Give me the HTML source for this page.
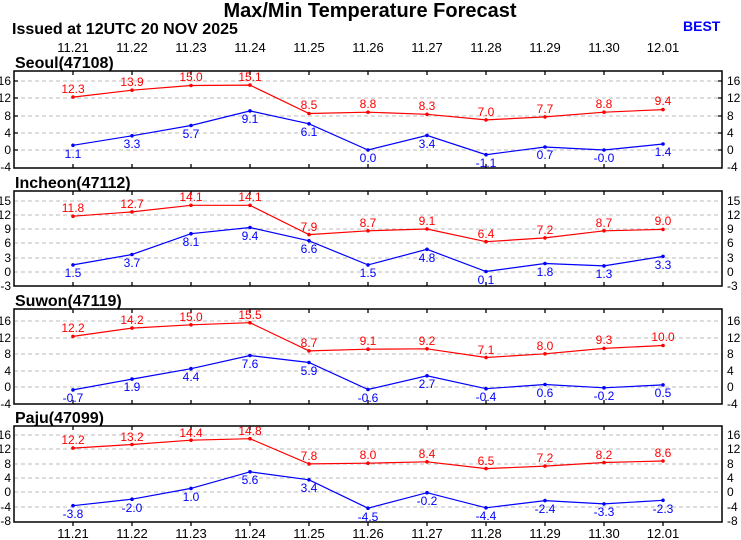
<!DOCTYPE html>
<html><head><meta charset="utf-8"><style>
body{margin:0;background:#fff}
svg{display:block;font-family:"Liberation Sans",Arial,sans-serif}
.g{stroke:#bbb;stroke-width:1;stroke-dasharray:4,3}
.f{fill:none;stroke:#000;stroke-width:1.5}
.tk{stroke:#000;stroke-width:1.3}
.yl{font-size:12px;fill:#000}
.dl{font-size:13px;fill:#000;text-anchor:middle}
.r{fill:none;stroke:#f00;stroke-width:1.2}
.b{fill:none;stroke:#00f;stroke-width:1.2}
.rt{font-size:12px;fill:#f00;text-anchor:middle}
.bt{font-size:12px;fill:#00f;text-anchor:middle}
.st{font-size:16px;font-weight:bold;fill:#000}
</style></head><body>
<svg width="741" height="540" viewBox="0 0 741 540">
<text x="370" y="17" text-anchor="middle" font-size="20" font-weight="bold">Max/Min Temperature Forecast</text>
<text x="12" y="34" font-size="16" font-weight="bold">Issued at 12UTC 20 NOV 2025</text>
<text x="683" y="31" font-size="14" font-weight="bold" fill="#00f">BEST</text>
<g class="dl">
<text x="73" y="52">11.21</text><text x="132" y="52">11.22</text><text x="191" y="52">11.23</text><text x="250" y="52">11.24</text><text x="309" y="52">11.25</text><text x="368" y="52">11.26</text><text x="427" y="52">11.27</text><text x="486" y="52">11.28</text><text x="545" y="52">11.29</text><text x="604" y="52">11.30</text><text x="663" y="52">12.01</text>
<text x="73" y="538">11.21</text><text x="132" y="538">11.22</text><text x="191" y="538">11.23</text><text x="250" y="538">11.24</text><text x="309" y="538">11.25</text><text x="368" y="538">11.26</text><text x="427" y="538">11.27</text><text x="486" y="538">11.28</text><text x="545" y="538">11.29</text><text x="604" y="538">11.30</text><text x="663" y="538">12.01</text>
</g>

<!-- Seoul -->
<text class="st" x="15" y="68">Seoul(47108)</text>
<g class="g"><line x1="14" x2="722" y1="81" y2="81"/><line x1="14" x2="722" y1="98" y2="98"/><line x1="14" x2="722" y1="116" y2="116"/><line x1="14" x2="722" y1="133" y2="133"/><line x1="14" x2="722" y1="150" y2="150"/></g>
<rect class="f" x="14" y="71" width="708" height="97"/>
<g class="yl" text-anchor="end"><text x="11" y="85">16</text><text x="11" y="102">12</text><text x="11" y="120">8</text><text x="11" y="137">4</text><text x="11" y="154">0</text><text x="11" y="171">-4</text></g>
<g class="yl"><text x="727" y="85">16</text><text x="727" y="102">12</text><text x="727" y="120">8</text><text x="727" y="137">4</text><text x="727" y="154">0</text><text x="727" y="171">-4</text></g>
<path class="tk" d="M73 71v4M132 71v4M191 71v4M250 71v4M309 71v4M368 71v4M427 71v4M486 71v4M545 71v4M604 71v4M663 71v4M73 168v-4M132 168v-4M191 168v-4M250 168v-4M309 168v-4M368 168v-4M427 168v-4M486 168v-4M545 168v-4M604 168v-4M663 168v-4M14 81h4M14 98h4M14 116h4M14 133h4M14 150h4M722 81h-4M722 98h-4M722 116h-4M722 133h-4M722 150h-4"/>
<polyline class="r" points="73,97.1 132,90.2 191,85.5 250,85.1 309,113.5 368,112.2 427,114.3 486,119.9 545,116.9 604,112.2 663,109.6"/>
<polyline class="b" points="73,145.3 132,135.8 191,125.5 250,110.9 309,123.8 368,150 427,135.4 486,154.7 545,147 604,150 663,144"/>
<g fill="#f00"><circle cx="73" cy="97.1" r="1.8"/><circle cx="132" cy="90.2" r="1.8"/><circle cx="191" cy="85.5" r="1.8"/><circle cx="250" cy="85.1" r="1.8"/><circle cx="309" cy="113.5" r="1.8"/><circle cx="368" cy="112.2" r="1.8"/><circle cx="427" cy="114.3" r="1.8"/><circle cx="486" cy="119.9" r="1.8"/><circle cx="545" cy="116.9" r="1.8"/><circle cx="604" cy="112.2" r="1.8"/><circle cx="663" cy="109.6" r="1.8"/></g>
<g fill="#00f"><circle cx="73" cy="145.3" r="1.8"/><circle cx="132" cy="135.8" r="1.8"/><circle cx="191" cy="125.5" r="1.8"/><circle cx="250" cy="110.9" r="1.8"/><circle cx="309" cy="123.8" r="1.8"/><circle cx="368" cy="150" r="1.8"/><circle cx="427" cy="135.4" r="1.8"/><circle cx="486" cy="154.7" r="1.8"/><circle cx="545" cy="147" r="1.8"/><circle cx="604" cy="150" r="1.8"/><circle cx="663" cy="144" r="1.8"/></g>
<g class="rt"><text x="73" y="93">12.3</text><text x="132" y="86">13.9</text><text x="191" y="81">15.0</text><text x="250" y="81">15.1</text><text x="309" y="109">8.5</text><text x="368" y="108">8.8</text><text x="427" y="110">8.3</text><text x="486" y="116">7.0</text><text x="545" y="113">7.7</text><text x="604" y="108">8.8</text><text x="663" y="105">9.4</text></g>
<g class="bt"><text x="73" y="158">1.1</text><text x="132" y="148">3.3</text><text x="191" y="138">5.7</text><text x="250" y="123">9.1</text><text x="309" y="136">6.1</text><text x="368" y="162">0.0</text><text x="427" y="148">3.4</text><text x="486" y="167">-1.1</text><text x="545" y="159">0.7</text><text x="604" y="162">-0.0</text><text x="663" y="156">1.4</text></g>

<!-- Incheon -->
<text class="st" x="15" y="188">Incheon(47112)</text>
<g class="g"><line x1="14" x2="722" y1="201" y2="201"/><line x1="14" x2="722" y1="215" y2="215"/><line x1="14" x2="722" y1="229" y2="229"/><line x1="14" x2="722" y1="243" y2="243"/><line x1="14" x2="722" y1="258" y2="258"/><line x1="14" x2="722" y1="272" y2="272"/></g>
<rect class="f" x="14" y="191" width="708" height="95"/>
<g class="yl" text-anchor="end"><text x="11" y="205">15</text><text x="11" y="219">12</text><text x="11" y="233">9</text><text x="11" y="247">6</text><text x="11" y="262">3</text><text x="11" y="276">0</text><text x="11" y="290">-3</text></g>
<g class="yl"><text x="727" y="205">15</text><text x="727" y="219">12</text><text x="727" y="233">9</text><text x="727" y="247">6</text><text x="727" y="262">3</text><text x="727" y="276">0</text><text x="727" y="290">-3</text></g>
<path class="tk" d="M73 191v4M132 191v4M191 191v4M250 191v4M309 191v4M368 191v4M427 191v4M486 191v4M545 191v4M604 191v4M663 191v4M73 286v-4M132 286v-4M191 286v-4M250 286v-4M309 286v-4M368 286v-4M427 286v-4M486 286v-4M545 286v-4M604 286v-4M663 286v-4"/>
<polyline class="r" points="73,216.2 132,211.9 191,205.3 250,205.3 309,234.6 368,230.8 427,229 486,241.7 545,237.9 604,230.8 663,229.4"/>
<polyline class="b" points="73,264.9 132,254.5 191,233.7 250,227.5 309,240.8 368,264.9 427,249.3 486,271.5 545,263.5 604,265.9 663,256.4"/>
<g fill="#f00"><circle cx="73" cy="216.2" r="1.8"/><circle cx="132" cy="211.9" r="1.8"/><circle cx="191" cy="205.3" r="1.8"/><circle cx="250" cy="205.3" r="1.8"/><circle cx="309" cy="234.6" r="1.8"/><circle cx="368" cy="230.8" r="1.8"/><circle cx="427" cy="229" r="1.8"/><circle cx="486" cy="241.7" r="1.8"/><circle cx="545" cy="237.9" r="1.8"/><circle cx="604" cy="230.8" r="1.8"/><circle cx="663" cy="229.4" r="1.8"/></g>
<g fill="#00f"><circle cx="73" cy="264.9" r="1.8"/><circle cx="132" cy="254.5" r="1.8"/><circle cx="191" cy="233.7" r="1.8"/><circle cx="250" cy="227.5" r="1.8"/><circle cx="309" cy="240.8" r="1.8"/><circle cx="368" cy="264.9" r="1.8"/><circle cx="427" cy="249.3" r="1.8"/><circle cx="486" cy="271.5" r="1.8"/><circle cx="545" cy="263.5" r="1.8"/><circle cx="604" cy="265.9" r="1.8"/><circle cx="663" cy="256.4" r="1.8"/></g>
<g class="rt"><text x="73" y="212">11.8</text><text x="132" y="208">12.7</text><text x="191" y="201">14.1</text><text x="250" y="201">14.1</text><text x="309" y="231">7.9</text><text x="368" y="227">8.7</text><text x="427" y="225">9.1</text><text x="486" y="238">6.4</text><text x="545" y="234">7.2</text><text x="604" y="227">8.7</text><text x="663" y="225">9.0</text></g>
<g class="bt"><text x="73" y="277">1.5</text><text x="132" y="267">3.7</text><text x="191" y="246">8.1</text><text x="250" y="240">9.4</text><text x="309" y="253">6.6</text><text x="368" y="277">1.5</text><text x="427" y="262">4.8</text><text x="486" y="284">0.1</text><text x="545" y="276">1.8</text><text x="604" y="278">1.3</text><text x="663" y="269">3.3</text></g>

<!-- Suwon -->
<text class="st" x="15" y="306">Suwon(47119)</text>
<g class="g"><line x1="14" x2="722" y1="321" y2="321"/><line x1="14" x2="722" y1="338" y2="338"/><line x1="14" x2="722" y1="354" y2="354"/><line x1="14" x2="722" y1="371" y2="371"/><line x1="14" x2="722" y1="387" y2="387"/></g>
<rect class="f" x="14" y="309" width="708" height="95"/>
<g class="yl" text-anchor="end"><text x="11" y="325">16</text><text x="11" y="342">12</text><text x="11" y="358">8</text><text x="11" y="375">4</text><text x="11" y="391">0</text><text x="11" y="408">-4</text></g>
<g class="yl"><text x="727" y="325">16</text><text x="727" y="342">12</text><text x="727" y="358">8</text><text x="727" y="375">4</text><text x="727" y="391">0</text><text x="727" y="408">-4</text></g>
<path class="tk" d="M73 309v4M132 309v4M191 309v4M250 309v4M309 309v4M368 309v4M427 309v4M486 309v4M545 309v4M604 309v4M663 309v4M73 404v-4M132 404v-4M191 404v-4M250 404v-4M309 404v-4M368 404v-4M427 404v-4M486 404v-4M545 404v-4M604 404v-4M663 404v-4"/>
<polyline class="r" points="73,336.4 132,328.1 191,324.8 250,322.7 309,350.9 368,349.2 427,348.8 486,357.5 545,353.8 604,348.4 663,345.5"/>
<polyline class="b" points="73,389.9 132,379.1 191,368.7 250,355.5 309,362.5 368,389.5 427,375.8 486,388.7 545,384.5 604,387.8 663,384.9"/>
<g fill="#f00"><circle cx="73" cy="336.4" r="1.8"/><circle cx="132" cy="328.1" r="1.8"/><circle cx="191" cy="324.8" r="1.8"/><circle cx="250" cy="322.7" r="1.8"/><circle cx="309" cy="350.9" r="1.8"/><circle cx="368" cy="349.2" r="1.8"/><circle cx="427" cy="348.8" r="1.8"/><circle cx="486" cy="357.5" r="1.8"/><circle cx="545" cy="353.8" r="1.8"/><circle cx="604" cy="348.4" r="1.8"/><circle cx="663" cy="345.5" r="1.8"/></g>
<g fill="#00f"><circle cx="73" cy="389.9" r="1.8"/><circle cx="132" cy="379.1" r="1.8"/><circle cx="191" cy="368.7" r="1.8"/><circle cx="250" cy="355.5" r="1.8"/><circle cx="309" cy="362.5" r="1.8"/><circle cx="368" cy="389.5" r="1.8"/><circle cx="427" cy="375.8" r="1.8"/><circle cx="486" cy="388.7" r="1.8"/><circle cx="545" cy="384.5" r="1.8"/><circle cx="604" cy="387.8" r="1.8"/><circle cx="663" cy="384.9" r="1.8"/></g>
<g class="rt"><text x="73" y="332">12.2</text><text x="132" y="324">14.2</text><text x="191" y="321">15.0</text><text x="250" y="319">15.5</text><text x="309" y="347">8.7</text><text x="368" y="345">9.1</text><text x="427" y="345">9.2</text><text x="486" y="354">7.1</text><text x="545" y="350">8.0</text><text x="604" y="344">9.3</text><text x="663" y="341">10.0</text></g>
<g class="bt"><text x="73" y="402">-0.7</text><text x="132" y="391">1.9</text><text x="191" y="381">4.4</text><text x="250" y="368">7.6</text><text x="309" y="375">5.9</text><text x="368" y="402">-0.6</text><text x="427" y="388">2.7</text><text x="486" y="401">-0.4</text><text x="545" y="397">0.6</text><text x="604" y="400">-0.2</text><text x="663" y="397">0.5</text></g>

<!-- Paju -->
<text class="st" x="15" y="423">Paju(47099)</text>
<g class="g"><line x1="14" x2="722" y1="435" y2="435"/><line x1="14" x2="722" y1="449" y2="449"/><line x1="14" x2="722" y1="464" y2="464"/><line x1="14" x2="722" y1="478" y2="478"/><line x1="14" x2="722" y1="492" y2="492"/><line x1="14" x2="722" y1="507" y2="507"/></g>
<rect class="f" x="14" y="426" width="708" height="96"/>
<g class="yl" text-anchor="end"><text x="11" y="439">16</text><text x="11" y="453">12</text><text x="11" y="468">8</text><text x="11" y="482">4</text><text x="11" y="496">0</text><text x="11" y="511">-4</text><text x="11" y="525">-8</text></g>
<g class="yl"><text x="727" y="439">16</text><text x="727" y="453">12</text><text x="727" y="468">8</text><text x="727" y="482">4</text><text x="727" y="496">0</text><text x="727" y="511">-4</text><text x="727" y="525">-8</text></g>
<path class="tk" d="M73 426v4M132 426v4M191 426v4M250 426v4M309 426v4M368 426v4M427 426v4M486 426v4M545 426v4M604 426v4M663 426v4M73 522v4M132 522v4M191 522v4M250 522v4M309 522v4M368 522v4M427 522v4M486 522v4M545 522v4M604 522v4M663 522v4"/>
<polyline class="r" points="73,448.1 132,444.5 191,440.2 250,438.7 309,463.9 368,463.2 427,461.8 486,468.6 545,466.1 604,462.5 663,461"/>
<polyline class="b" points="73,505.7 132,499.2 191,488.4 250,471.8 309,479.8 368,508.2 427,492.7 486,507.8 545,500.6 604,503.9 663,500.3"/>
<g fill="#f00"><circle cx="73" cy="448.1" r="1.8"/><circle cx="132" cy="444.5" r="1.8"/><circle cx="191" cy="440.2" r="1.8"/><circle cx="250" cy="438.7" r="1.8"/><circle cx="309" cy="463.9" r="1.8"/><circle cx="368" cy="463.2" r="1.8"/><circle cx="427" cy="461.8" r="1.8"/><circle cx="486" cy="468.6" r="1.8"/><circle cx="545" cy="466.1" r="1.8"/><circle cx="604" cy="462.5" r="1.8"/><circle cx="663" cy="461" r="1.8"/></g>
<g fill="#00f"><circle cx="73" cy="505.7" r="1.8"/><circle cx="132" cy="499.2" r="1.8"/><circle cx="191" cy="488.4" r="1.8"/><circle cx="250" cy="471.8" r="1.8"/><circle cx="309" cy="479.8" r="1.8"/><circle cx="368" cy="508.2" r="1.8"/><circle cx="427" cy="492.7" r="1.8"/><circle cx="486" cy="507.8" r="1.8"/><circle cx="545" cy="500.6" r="1.8"/><circle cx="604" cy="503.9" r="1.8"/><circle cx="663" cy="500.3" r="1.8"/></g>
<g class="rt"><text x="73" y="444">12.2</text><text x="132" y="441">13.2</text><text x="191" y="437">14.4</text><text x="250" y="435">14.8</text><text x="309" y="460">7.8</text><text x="368" y="459">8.0</text><text x="427" y="458">8.4</text><text x="486" y="465">6.5</text><text x="545" y="462">7.2</text><text x="604" y="459">8.2</text><text x="663" y="457">8.6</text></g>
<g class="bt"><text x="73" y="518">-3.8</text><text x="132" y="512">-2.0</text><text x="191" y="501">1.0</text><text x="250" y="484">5.6</text><text x="309" y="492">3.4</text><text x="368" y="521">-4.5</text><text x="427" y="505">-0.2</text><text x="486" y="520">-4.4</text><text x="545" y="513">-2.4</text><text x="604" y="516">-3.3</text><text x="663" y="513">-2.3</text></g>
</svg>
</body></html>
